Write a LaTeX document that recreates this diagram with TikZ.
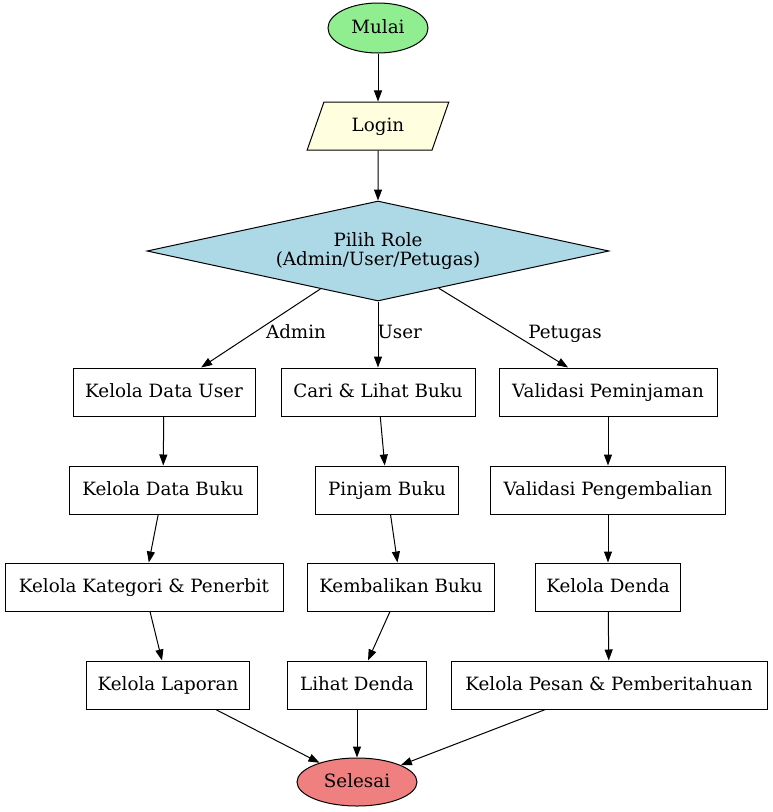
\documentclass[tikz,border=0pt]{standalone}
\usepackage{fontspec}
\setmainfont{DejaVu Serif}
\usetikzlibrary{shapes.geometric,arrows.meta}
\definecolor{cgreen}{HTML}{90EE90}
\definecolor{cyellow}{HTML}{FFFFE0}
\definecolor{cblue}{HTML}{ADD8E6}
\definecolor{cred}{HTML}{F08080}
\begin{document}
\begin{tikzpicture}[x=1pt,y=-1pt,
  every node/.style={font=\fontsize{18.3}{20}\selectfont, inner sep=0pt, line width=1pt},
  box/.style={draw, rectangle, minimum height=48pt, text height=14pt, text depth=3pt},
  term/.style={draw, ellipse, text height=14pt, text depth=3pt},
  arr/.style={-{Triangle[length=11pt,width=8pt]}, line width=1pt},
  lbl/.style={font=\fontsize{18.3}{20}\selectfont, text height=14pt, text depth=3pt}]
\useasboundingbox (0,0) rectangle (772,812);
\node[term, fill=cgreen, minimum width=100pt, minimum height=50pt] (mulai) at (378,28) {Mulai};
\node[draw, trapezium, trapezium left angle=64.4, trapezium right angle=115.6, trapezium stretches=true, fill=cyellow, minimum width=142pt, minimum height=48pt, text height=14pt, text depth=3pt] (login) at (378,126) {Login};
\node[draw, diamond, aspect=4.62, fill=cblue, minimum width=462pt, minimum height=100pt, align=center] (role) at (378,251) {Pilih Role\\[-1pt](Admin/User/Petugas)};

\node[box, minimum width=182pt] (kdu) at (164,392) {Kelola Data User};
\node[box, minimum width=194pt] (cari) at (378,392) {Cari \& Lihat Buku};
\node[box, minimum width=218pt] (vpem) at (608,392) {Validasi Peminjaman};

\node[box, minimum width=188pt] (kdb) at (163,490) {Kelola Data Buku};
\node[box, minimum width=143pt] (pinjam) at (387,490) {Pinjam Buku};
\node[box, minimum width=235pt] (vpeng) at (608,490) {Validasi Pengembalian};

\node[box, minimum width=278pt] (kat) at (144,587) {Kelola Kategori \& Penerbit};
\node[box, minimum width=187pt] (kemb) at (401,587) {Kembalikan Buku};
\node[box, minimum width=145pt] (kden) at (608,587) {Kelola Denda};

\node[box, minimum width=163pt] (lap) at (168,685) {Kelola Laporan};
\node[box, minimum width=139pt] (lden) at (357,685) {Lihat Denda};
\node[box, minimum width=316pt] (pesan) at (609,685) {Kelola Pesan \& Pemberitahuan};

\node[term, fill=cred, minimum width=120pt, minimum height=48pt] (selesai) at (357,782) {Selesai};

\draw[arr] (mulai) -- (login);
\draw[arr] (login) -- (role);
\draw[arr] (role) -- (kdu);
\draw[arr] (role.south) -- (cari.north);
\draw[arr] (role) -- (vpem);
\node[lbl] (la) at (296,333) {Admin};
\node[lbl, anchor=west] (lu) at (377,333) {User};
\node[lbl] (lp) at (565,333) {Petugas};

\draw[arr] (kdu) -- (kdb);
\draw[arr] (kdb) -- (kat);
\draw[arr] (kat) -- (lap);
\draw[arr] (cari) -- (pinjam);
\draw[arr] (pinjam) -- (kemb);
\draw[arr] (kemb) -- (lden);
\draw[arr] (vpem) -- (vpeng);
\draw[arr] (vpeng) -- (kden);
\draw[arr] (kden) -- (pesan);
\draw[arr] (lap) -- (selesai);
\draw[arr] (lden) -- (selesai);
\draw[arr] (pesan) -- (selesai);
\end{tikzpicture}
\end{document}
